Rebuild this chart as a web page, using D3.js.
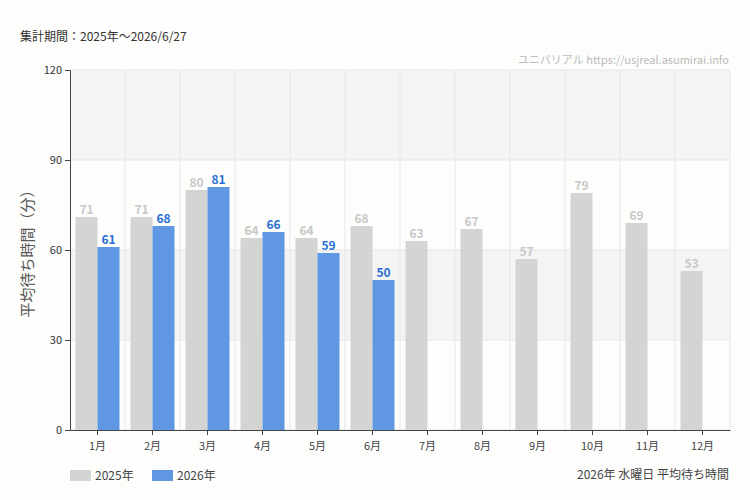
<!DOCTYPE html>
<html><head><meta charset="utf-8">
<script src="https://cdn.jsdelivr.net/npm/d3@7"></script>
<style>body{margin:0;background:#fdfefc}text{font-family:"Noto Sans CJK JP","Noto Sans",sans-serif}</style>
</head><body><svg id="c" width="750" height="500"></svg>
<script>
var months = ["1月","2月","3月","4月","5月","6月","7月","8月","9月","10月","11月","12月"]
var v2025 = [71,71,80,64,64,68,63,67,57,79,69,53]
var v2026 = [61,68,81,66,59,50]
var yTicks = [0,30,60,90,120]

var svg = d3.select("#c")
var m = {left:70, right:730, top:70, bottom:430}
var x = d3.scaleBand().domain(months).range([m.left,m.right]).paddingInner(0.2).paddingOuter(0.1)
var band = d3.scaleBand().domain(months).range([m.left,m.right])
var y = d3.scaleLinear().domain([0,120]).range([m.bottom,m.top])
var bw = x.bandwidth()/2

// shaded bands
;[[90,120],[30,60]].forEach(function(b){
  svg.append("rect").attr("x",m.left).attr("width",m.right-m.left)
    .attr("y",y(b[1])).attr("height",y(b[0])-y(b[1])).attr("fill","#f4f4f4")
})
yTicks.forEach(function(t){
  svg.append("line").attr("x1",m.left).attr("x2",m.right).attr("y1",y(t)).attr("y2",y(t)).attr("stroke","#e6e6e6")
})
months.forEach(function(d){
  svg.append("line").attr("x1",band(d)+band.bandwidth()).attr("x2",band(d)+band.bandwidth())
    .attr("y1",m.top).attr("y2",m.bottom).attr("stroke","#e6e6e6")
})

svg.selectAll(".b25").data(v2025).enter().append("rect")
  .attr("x",function(d,i){return x(months[i])}).attr("width",bw)
  .attr("y",function(d){return y(d)}).attr("height",function(d){return m.bottom-y(d)}).attr("fill","#d4d4d2")
svg.selectAll(".b26").data(v2026).enter().append("rect")
  .attr("x",function(d,i){return x(months[i])+bw}).attr("width",bw)
  .attr("y",function(d){return y(d)}).attr("height",function(d){return m.bottom-y(d)}).attr("fill","#5f97e3")

svg.selectAll(".l25").data(v2025).enter().append("text")
  .attr("x",function(d,i){return x(months[i])+bw/2}).attr("y",function(d){return y(d)-3})
  .attr("text-anchor","middle").attr("font-size",12).attr("fill","#c8c8c8").attr("font-weight","bold").text(function(d){return d})
svg.selectAll(".l26").data(v2026).enter().append("text")
  .attr("x",function(d,i){return x(months[i])+bw*1.5}).attr("y",function(d){return y(d)-3})
  .attr("text-anchor","middle").attr("font-size",12).attr("fill","#2a6fd6").attr("font-weight","bold").text(function(d){return d})

var ya = svg.append("g").attr("transform","translate("+m.left+",0)")
  .call(d3.axisLeft(y).tickValues(yTicks).tickSize(5))
ya.selectAll("text").attr("font-size",11).attr("fill","#333")
ya.select(".domain").attr("stroke","#444")
ya.selectAll(".tick line").attr("stroke","#444")
var xa = svg.append("g").attr("transform","translate(0,"+m.bottom+")")
  .call(d3.axisBottom(band).tickSize(5).tickSizeOuter(0))
xa.selectAll("text").attr("font-size",11).attr("fill","#444").attr("dy","1.1em")
xa.select(".domain").attr("stroke","#444")
xa.selectAll(".tick line").attr("stroke","#444")

svg.append("text").attr("x",20).attr("y",41).attr("font-size",12).attr("fill","#333").text("集計期間：2025年～2026/6/27")
svg.append("text").attr("x",729).attr("y",64).attr("text-anchor","end").attr("font-size",11).attr("fill","#bbb").text("ユニバリアル  https://usjreal.asumirai.info")
svg.append("text").attr("transform","translate(33,250) rotate(-90)").attr("text-anchor","middle")
  .attr("font-size",15).attr("fill","#555").text("平均待ち時間（分）")

var lg = [["2025年","#d4d4d2",70],["2026年","#5f97e3",152]]
lg.forEach(function(l){
  svg.append("rect").attr("x",l[2]).attr("y",470).attr("width",21).attr("height",11).attr("fill",l[1])
  svg.append("text").attr("x",l[2]+25).attr("y",480).attr("font-size",12).attr("fill","#444").text(l[0])
})
svg.append("text").attr("x",729).attr("y",479).attr("text-anchor","end").attr("font-size",12).attr("fill","#444").text("2026年 水曜日 平均待ち時間")
</script></body></html>
